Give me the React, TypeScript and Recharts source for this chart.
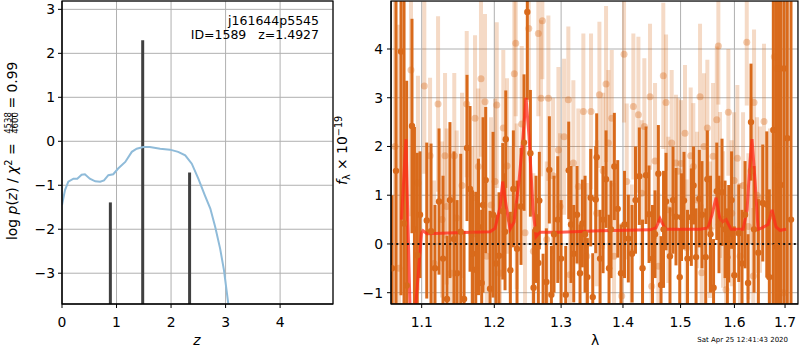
import React from "react";
import { ComposedChart, Line, Scatter, ErrorBar, XAxis, YAxis, CartesianGrid, ReferenceLine } from "recharts";

const FONT = "'DejaVu Sans', sans-serif";

// left panel: log p(z) curve and chi2 spikes
const pzZ = [0.0, 0.055, 0.116, 0.21, 0.28, 0.36, 0.42, 0.51, 0.61, 0.7, 0.77, 0.85, 0.94, 1.03, 1.16, 1.28, 1.37, 1.49, 1.61, 1.8, 1.98, 2.13, 2.26, 2.38, 2.5, 2.62, 2.72, 2.81, 2.9, 2.97, 3.05, 3.12];
const pzLog = [-1.45, -1.11, -0.92, -0.85, -0.85, -0.76, -0.75, -0.85, -0.91, -0.92, -0.89, -0.77, -0.75, -0.62, -0.47, -0.24, -0.17, -0.13, -0.13, -0.17, -0.19, -0.24, -0.32, -0.51, -0.85, -1.23, -1.53, -1.95, -2.44, -2.93, -3.7, -4.3];
const chiZ = [0.887, 1.48, 2.34];
const chiTop = [-1.39, 2.3, -0.71];
const zTicks = [0, 1, 2, 3, 4];
const logTicks = [-3, -2, -1, 0, 1, 2, 3];

// right panel: spectrum (dark + faint grism points) and model
const darkLam = [1.0616, 1.0667, 1.0731, 1.077, 1.0804, 1.0873, 1.0905, 1.0942, 1.0978, 1.1067,
  1.1124, 1.1177, 1.1231, 1.1285, 1.1339, 1.1379, 1.1434, 1.1476, 1.1527, 1.1573,
  1.1614, 1.1656, 1.1691, 1.1736, 1.1775, 1.182, 1.1839, 1.1877, 1.1939, 1.1982,
  1.2025, 1.2068, 1.2122, 1.2155, 1.2166, 1.2233, 1.2277, 1.2331, 1.239, 1.2435,
  1.2484, 1.253, 1.2578, 1.2615, 1.265, 1.2665, 1.2722, 1.2772, 1.2818, 1.2849,
  1.289, 1.2948, 1.2999, 1.3072, 1.3119, 1.3155, 1.3198, 1.325, 1.3298, 1.3335,
  1.3378, 1.3415, 1.3469, 1.3502, 1.355, 1.3566, 1.3621, 1.367, 1.3719, 1.3768,
  1.3801, 1.3856, 1.3912, 1.3967, 1.4026, 1.409, 1.4153, 1.4212, 1.4277, 1.4332,
  1.4392, 1.4444, 1.4504, 1.4548, 1.4606, 1.4653, 1.4697, 1.4741, 1.4811, 1.4865,
  1.4918, 1.4985, 1.5017, 1.5062, 1.5125, 1.5195, 1.5235, 1.5281, 1.5341, 1.539,
  1.5459, 1.5489, 1.5548, 1.5605, 1.5665, 1.5707, 1.5764, 1.5821, 1.5865, 1.5891,
  1.5945, 1.5998, 1.6083, 1.6146, 1.6205, 1.6263, 1.6321, 1.638, 1.6465, 1.6552,
  1.6632, 1.6683, 1.6763, 1.6817, 1.6868, 1.6912, 1.6979, 1.7046, 1.7122];
const darkFlux = [-0.5, 1.5, 3.95, 0.42, -0.85, 2.42, 0.3, -0.23, 0.6, 0.48,
  0.26, -0.5, 0.87, -0.3, -1.13, 0.9, 0.1, -0.6, 0.25, -1.13,
  1.97, 1.13, -0.2, -0.53, 0.35, -0.8, 0.8, 1.31, -0.92, 0.6,
  -0.4, -0.24, 0.67, 0.25, 2.15, -0.54, 1.13, -0.1, 0.77, 2.08,
  4.76, 1.86, -0.9, 0.3, -0.39, 0.89, -1.3, -0.78, 1.52, -1.04,
  0.2, 0.5, -0.3, -1.04, 1.51, 0.4, -0.2, 0.6, -0.6, 0.42,
  0.2, -0.68, 0.95, -1.09, 0.91, 1.78, -0.3, 0.5, 1.33, -0.5,
  0.3, 1.59, 0.72, -0.6, 0.4, 0.11, -0.2, 0.9, 1.39, -0.5,
  1.41, 0.61, -0.3, 0.2, 1.44, -0.84, 0.3, 0.87, -0.25, 0.9,
  0.56, -0.68, 0.55, 0.89, -0.3, 0.55, 1.2, -0.27, 0.93, 0.6,
  -0.27, 1.33, 0.2, -0.9, 1.08, 0.4, 1.06, 0.3, -0.27, 0.21,
  0.9, -0.64, 0.22, -0.4, 0.6, -0.8, 2.5, 0.3, -0.18, 0.84,
  0.81, -0.68, 2.34, -0.05, 1.5, 1.21, 3.6, 2.17, 0.5];
const darkErr = [1.5, 5, 5, 5, 4.2, 2.2, 2.1, 2.1, 1.3, 1.6,
  1.8, 1.3, 1.5, 1.7, 1.3, 1.6, 1.8, 1.5, 1.6, 1.4,
  1.5, 1.7, 1.3, 1.6, 1.4, 1.5, 1.8, 1.5, 1.6, 1.7,
  1.0, 1.3, 1.4, 1.2, 1.0, 1.2, 1.2, 1.4, 1.2, 1.4,
  1.8, 1.3, 1.2, 1.1, 1.0, 1.0, 1.1, 1.1, 1.1, 1.0,
  1.2, 1.3, 1.2, 1.0, 1.0, 1.2, 1.0, 1.0, 1.0, 0.9,
  1.2, 0.8, 1.0, 0.9, 1.1, 0.9, 1.0, 1.1, 1.0, 1.1,
  1.0, 1.1, 1.0, 1.0, 1.1, 0.9, 1.0, 1.1, 1.0, 1.0,
  1.0, 1.0, 1.1, 0.9, 1.0, 1.0, 1.2, 1.0, 1.0, 1.1,
  1.0, 1.0, 0.9, 1.0, 1.0, 1.0, 0.8, 1.0, 1.0, 1.1,
  1.0, 1.0, 1.2, 1.0, 1.0, 1.0, 1.1, 1.0, 1.0, 1.0,
  1.0, 1.0, 1.0, 1.1, 1.1, 1.0, 1.2, 1.3, 1.1, 1.2,
  1.5, 1.8, 4, 6, 6, 5, 6, 8, 8];

const lightLam = [1.0654, 1.0705, 1.086, 1.0951, 1.1035, 1.1111, 1.1164, 1.1218, 1.1272, 1.1312,
  1.1335, 1.1393, 1.1438, 1.1471, 1.1545, 1.161, 1.1684, 1.1726, 1.1772, 1.181,
  1.1867, 1.1892, 1.1953, 1.2011, 1.2035, 1.2082, 1.213, 1.2184, 1.2228, 1.2291,
  1.2312, 1.2327, 1.2401, 1.245, 1.2506, 1.2575, 1.265, 1.2691, 1.2711, 1.2778,
  1.2803, 1.2875, 1.2958, 1.2983, 1.3046, 1.3113, 1.3139, 1.3192, 1.3271, 1.3351,
  1.3405, 1.3474, 1.3566, 1.361, 1.367, 1.3719, 1.3757, 1.3813, 1.3851, 1.3979,
  1.4018, 1.4063, 1.4148, 1.4175, 1.4261, 1.4318, 1.4363, 1.4461, 1.449, 1.4548,
  1.4606, 1.4693, 1.4741, 1.4781, 1.4841, 1.4918, 1.4959, 1.5008, 1.508, 1.511,
  1.5183, 1.5231, 1.5299, 1.5354, 1.5385, 1.5427, 1.5489, 1.5539, 1.5595, 1.5665,
  1.5695, 1.5726, 1.5783, 1.584, 1.5884, 1.5948, 1.5993, 1.6056, 1.6108, 1.6166,
  1.6238, 1.6269, 1.6321, 1.6366, 1.638, 1.6439, 1.6498, 1.6577, 1.6697, 1.6783,
  1.6844, 1.6864, 1.6965];
const lightFlux = [2.0, -0.5, 3.57, 1.25, 3.24, 1.81, -0.4, 2.87, 0.5, 1.81,
  0.77, -0.6, 1.81, 0.53, 1.2, 2.87, 0.2, 2.58, 1.59, 3.39,
  2.92, -0.25, 0.8, 1.28, 2.85, -0.6, 2.38, 1.6, 0.5, 3.49,
  4.12, 0.77, 2.46, 0.23, 4.42, -0.15, 4.32, 2.99, 4.58, 0.09,
  2.99, 1.4, 1.93, 0.77, 2.2, 2.96, -0.63, 1.66, 1.18, 2.72,
  -0.25, 2.72, 0.63, 3.06, 1.5, 3.28, 2.07, 2.58, -0.25, -1.07,
  3.89, 1.28, -0.18, 2.82, 2.65, 1.04, 2.41, 3.02, -0.87, 1.7,
  -0.46, 3.45, 2.9, 0.7, 2.07, 1.66, 1.49, 1.65, 2.27, -0.08,
  1.81, 1.59, 0.9, 3.02, -0.59, 2.0, 2.38, 0.29, 1.8, 2.55,
  4.06, 1.21, 0.5, -0.94, 2.7, 0.63, 1.3, 1.76, -0.25, 1.2,
  4.14, 0.36, 1.5, -0.66, 2.9, 1.0, 0.91, 2.51, 0.57, 3.84,
  3.6, 1.59, -1.0];
const lightErr = [6, 5, 3, 2.2, 1.8, 1.6, 1.7, 1.8, 1.6, 1.7,
  1.6, 1.6, 1.7, 1.8, 1.9, 1.5, 1.8, 1.7, 1.6, 1.6,
  1.8, 1.6, 1.8, 1.7, 1.7, 1.6, 1.6, 1.8, 1.5, 1.5,
  1.5, 1.7, 1.6, 1.8, 1.5, 1.6, 1.7, 1.6, 1.2, 1.6,
  1.7, 1.6, 1.7, 1.5, 1.6, 1.5, 1.6, 1.7, 1.6, 1.6,
  1.5, 1.6, 1.5, 1.5, 1.6, 1.6, 1.5, 1.4, 1.5, 1.5,
  1.4, 1.6, 1.4, 1.5, 1.6, 1.5, 1.4, 1.5, 1.5, 1.6,
  1.5, 1.5, 1.4, 1.5, 1.5, 1.4, 1.5, 1.3, 1.4, 1.4,
  1.4, 1.3, 1.4, 1.5, 1.4, 1.5, 1.4, 1.4, 1.5, 1.5,
  1.2, 1.5, 1.4, 1.5, 1.3, 1.5, 1.4, 1.5, 1.5, 1.5,
  1.3, 1.5, 1.5, 1.4, 1.5, 1.6, 1.5, 1.6, 1.8, 3,
  4, 5, 6];

const modelLam = [1.0737, 1.0795, 1.0847, 1.0886, 1.0925, 1.0998, 1.1018, 1.107, 1.1448, 1.1939,
  1.2011, 1.2082, 1.2121, 1.217, 1.2228, 1.2287, 1.2361, 1.242, 1.2465, 1.251,
  1.257, 1.2615, 1.2645, 1.2676, 1.2983, 1.3621, 1.4461, 1.4565, 1.4635, 1.4706,
  1.4758, 1.5354, 1.5501, 1.5576, 1.5651, 1.5717, 1.5764, 1.584, 1.5935, 1.6166,
  1.6244, 1.6302, 1.6341, 1.64, 1.6459, 1.6538, 1.6657, 1.6737, 1.6817, 1.6898, 1.702];
const modelFlux = [0.5, 2.15, -1.3, -3, -1.2, 0.22, 0.27, 0.21, 0.23, 0.25,
  0.32, 0.75, 1.28, 0.8, 0.3, 0.45, 1.3, 2.2, 3.0, 2.2,
  0.7, 0.15, 0.2, 0.24, 0.24, 0.27, 0.29, 0.33, 0.52, 0.35,
  0.3, 0.3, 0.33, 0.6, 0.95, 0.55, 0.45, 0.5, 0.3, 0.3,
  0.7, 1.7, 2.15, 1.3, 0.3, 0.33, 0.4, 0.7, 0.35, 0.28, 0.3];
const lamTicks = [1.1, 1.2, 1.3, 1.4, 1.5, 1.6, 1.7];
const fluxTicks = [-1, 0, 1, 2, 3, 4];

const ORANGE = "#d96a1b";
const LAM_DOMAIN = [1.0603, 1.7266];
const FLUX_DOMAIN = [-1.232, 4.985];

const minus = (v: number) => (v < 0 ? "\u2212" + Math.abs(v) : String(v));
const tickStyle = { fill: "#000", fontSize: 13.9, fontFamily: FONT };

const toPts = (xs: number[], ys: number[], es?: number[]) =>
  xs.map((x, i) => ({ x, y: ys[i], err: es ? es[i] : 0 }));

function LeftPanel() {
  const curve = toPts(pzZ, pzLog);
  return (
    <ComposedChart width={340} height={350} margin={{ top: 1, right: 7, left: 0, bottom: 0 }}>
      <CartesianGrid stroke="#b0b0b0" strokeWidth={1} />
      <XAxis type="number" dataKey="x" domain={[0, 4.97]} ticks={zTicks} allowDataOverflow
        height={46} tick={tickStyle} tickSize={4} tickMargin={9} stroke="#000" tickFormatter={minus} />
      <YAxis type="number" dataKey="y" domain={[-3.7, 3.19]} ticks={logTicks} allowDataOverflow
        width={62} tick={tickStyle} tickSize={4} tickMargin={3} stroke="#000" tickFormatter={minus} />
      {chiZ.map((z, i) => (
        <ReferenceLine key={z} segment={[{ x: z, y: -3.7 }, { x: z, y: chiTop[i] }]}
          stroke="#404040" strokeWidth={3} ifOverflow="hidden" />
      ))}
      <Line data={curve} dataKey="y" type="linear" stroke="#8fbbd9" strokeWidth={2}
        dot={false} isAnimationActive={false} />
    </ComposedChart>
  );
}

function SpectrumAxes({ children }: { children?: React.ReactNode }) {
  return (
    <ComposedChart width={460} height={350} margin={{ top: 1, right: 2, left: 0, bottom: 0 }}>
      <XAxis type="number" dataKey="x" scale="log" domain={LAM_DOMAIN} ticks={lamTicks} allowDataOverflow
        height={46} tick={tickStyle} tickSize={4} tickMargin={9} stroke="#000" tickFormatter={(v) => v.toFixed(1)} />
      <YAxis type="number" dataKey="y" domain={FLUX_DOMAIN} ticks={fluxTicks} allowDataOverflow
        width={51} tick={tickStyle} tickSize={4} tickMargin={4} stroke="#000" tickFormatter={minus} />
      {children}
    </ComposedChart>
  );
}

function RightPanel() {
  const dark = toPts(darkLam, darkFlux, darkErr);
  const light = toPts(lightLam, lightFlux, lightErr);
  const model = toPts(modelLam, modelFlux);
  return (
    <div style={{ position: "relative", width: 460, height: 350 }}>
      <div style={{ position: "absolute", left: 0, top: 0 }}>
        <SpectrumAxes />
      </div>
      {/* data layer, clipped to the plot box */}
      <div style={{ position: "absolute", left: 0, top: 0, clipPath: "inset(1px 2px 46px 51px)" }}>
        <SpectrumAxes>
          <Scatter data={light} dataKey="y" isAnimationActive={false}
            shape={(p: any) => <circle cx={p.cx} cy={p.cy} r={3.5} fill={ORANGE} fillOpacity={0.35} />}>
            <ErrorBar dataKey="err" direction="y" width={0} stroke={ORANGE} strokeWidth={4} strokeOpacity={0.25} />
          </Scatter>
          <Scatter data={dark} dataKey="y" isAnimationActive={false}
            shape={(p: any) => <circle cx={p.cx} cy={p.cy} r={3.2} fill={ORANGE} />}>
            <ErrorBar dataKey="err" direction="y" width={0} stroke={ORANGE} strokeWidth={3} />
          </Scatter>
          <CartesianGrid stroke="#b0b0b0" strokeWidth={1} />
          <Line data={model} dataKey="y" type="linear" stroke="#ff2a1a" strokeOpacity={0.75} strokeWidth={3}
            dot={false} isAnimationActive={false} />
          <ReferenceLine y={0} stroke="#111" strokeWidth={2} strokeDasharray="2 3.3" />
        </SpectrumAxes>
      </div>
    </div>
  );
}

export default function App() {
  return (
    <div style={{ position: "absolute", left: 0, top: 0, width: 800, height: 350, background: "#fff", fontFamily: FONT }}>
      <div style={{ position: "absolute", left: 0, top: 0 }}>
        <LeftPanel />
      </div>
      <div style={{ position: "absolute", left: 340, top: 0 }}>
        <RightPanel />
      </div>
      <svg width={800} height={350} style={{ position: "absolute", left: 0, top: 0, pointerEvents: "none" }}
        fontFamily={FONT}>
        <rect x={62} y={1} width={271} height={303} fill="none" stroke="#000" strokeWidth={1.2} />
        <rect x={391} y={1} width={407} height={303} fill="none" stroke="#000" strokeWidth={1.2} />
        <text x={319} y={24.5} textAnchor="end" fontSize={12.5}>j161644p5545</text>
        <text x={319} y={39} textAnchor="end" fontSize={12.5} style={{ whiteSpace: "pre" }}>ID=1589   z=1.4927</text>
        <text x={197} y={345} textAnchor="middle" fontSize={13.9} fontStyle="italic">z</text>
        <text x={595} y={345} textAnchor="middle" fontSize={13.9}>λ</text>
        <text x={742.7} y={341.5} textAnchor="middle" fontSize={7}>Sat Apr 25 12:41:43 2020</text>
        <g transform="translate(16.7,240) rotate(-90)" fontSize={13.9}>
          <text x={0} y={0} style={{ whiteSpace: "pre" }}>
            log <tspan fontStyle="italic">p</tspan>(<tspan fontStyle="italic">z</tspan>) / <tspan fontStyle="italic">χ</tspan>
            <tspan fontSize={9.7} dy={-5}>2</tspan><tspan dy={5}> =</tspan>
          </text>
          <text x={117} y={-5.7} textAnchor="middle" fontSize={8.5}>4538</text>
          <line x1={107.5} x2={126.5} y1={-4.3} y2={-4.3} stroke="#000" strokeWidth={0.7} />
          <text x={117} y={1.6} textAnchor="middle" fontSize={8.5}>4600</text>
          <text x={127} y={0} style={{ whiteSpace: "pre" }}> = 0.99</text>
        </g>
        <g transform="translate(347,185) rotate(-90)" fontSize={13.9}>
          <text x={0} y={0} style={{ whiteSpace: "pre" }}>
            <tspan fontStyle="italic">f</tspan><tspan fontSize={9.7} dy={3}>λ</tspan>
            <tspan dy={-3}> × 10</tspan><tspan fontSize={9.7} dy={-5.5}>−19</tspan>
          </text>
        </g>
      </svg>
    </div>
  );
}
